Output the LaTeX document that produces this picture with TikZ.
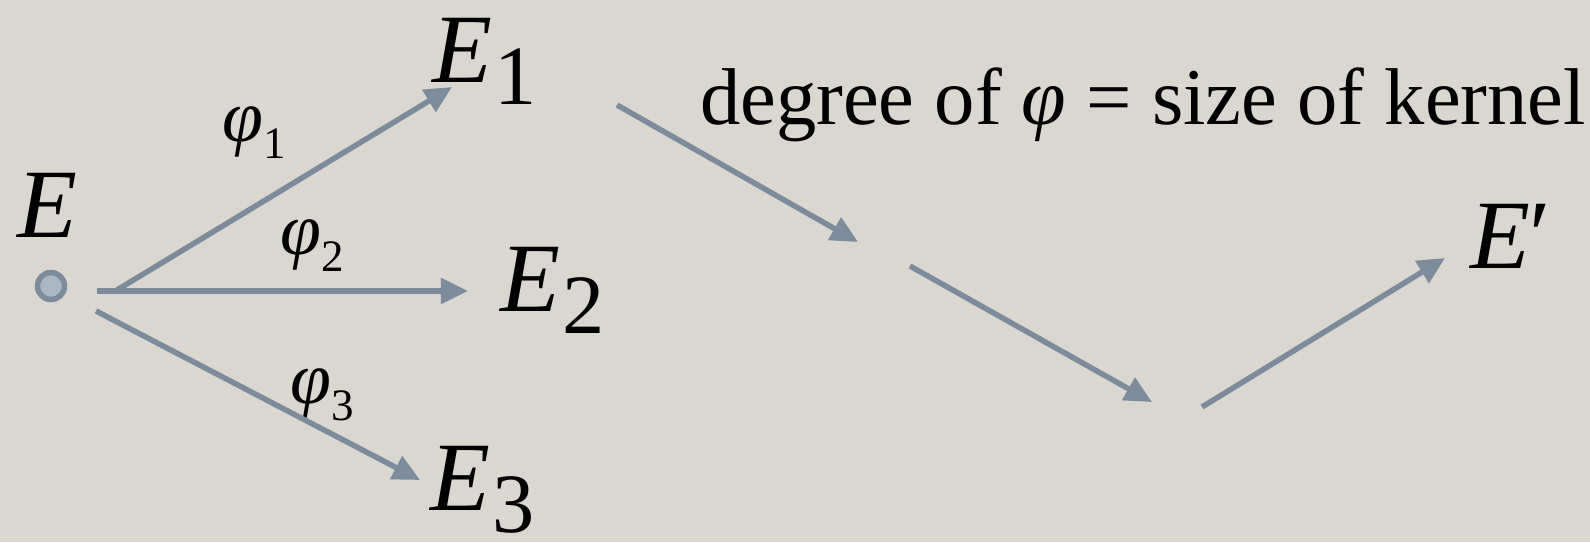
\documentclass[tikz,border=0pt]{standalone}
\usepackage{fontspec}
\setmainfont{Liberation Serif}
\usetikzlibrary{arrows.meta}
\definecolor{bgc}{HTML}{DAD7D0}
\definecolor{arrc}{HTML}{7D8C9C}
\definecolor{dotfill}{HTML}{A9B7C4}
\newcommand\Efont{\fontsize{27.9pt}{30pt}\selectfont}
\newcommand\Esub{\fontsize{24pt}{26pt}\selectfont}
\newcommand\Pfont{\fontsize{21pt}{23pt}\selectfont}
\newcommand\Psub{\fontsize{12.8pt}{14pt}\selectfont}
\newcommand\Tfont{\fontsize{22.9pt}{25pt}\selectfont}
\newcommand\Ename[1]{\textit{E}\kern0.03cm\raisebox{-0.22cm}{\Esub #1}}
\newcommand\Pname[1]{\textit{φ}\kern0.01cm\raisebox{-0.17cm}{\Psub #1}}
\begin{document}
\begin{tikzpicture}[x=0.01cm,y=-0.01cm,
  lbl/.style={anchor=base west,inner sep=0pt,outer sep=0pt,text=black},
  arr/.style={draw=arrc,line width=0.055cm,-{Triangle[length=0.27cm,width=0.25cm]}}]
\useasboundingbox (0,0) rectangle (1590,542);
\fill[bgc] (0,0) rectangle (1590,542);
% dot
\node[circle,draw=arrc,fill=dotfill,line width=0.055cm,minimum size=0.27cm,inner sep=0pt] (dot) at (51,286) {};
% labels
\node[lbl,font=\Efont] (nE) at (18,237) {\textit{E}};
\node[lbl,font=\Efont] (nE1) at (432,82) {\Ename{1}};
\node[lbl,font=\Efont] (nE2) at (500,311) {\Ename{2}};
\node[lbl,font=\Efont] (nE3) at (430,510) {\Ename{3}};
\node[lbl,font=\Efont] (nEp) at (1470,268) {\textit{E}′};
\node[lbl,font=\Pfont] (p1) at (222,141) {\Pname{1}};
\node[lbl,font=\Pfont] (p2) at (280,254) {\Pname{2}};
\node[lbl,font=\Pfont] (p3) at (290,403) {\Pname{3}};
\node[lbl,font=\Tfont] (title) at (700,124) {degree of \textit{φ} = size of kernel};
% arrow end points
\coordinate (a1s) at (117,290); \coordinate (a1e) at (452,87);
\coordinate (a2s) at (97,291);  \coordinate (a2e) at (468,291);
\coordinate (a3s) at (96,311);  \coordinate (a3e) at (420,480);
\coordinate (b1s) at (617,105); \coordinate (b1e) at (858,242);
\coordinate (b2s) at (910,266); \coordinate (b2e) at (1152,402);
\coordinate (b3s) at (1202,407);\coordinate (b3e) at (1445,258);
\draw[arr] (a1s) -- (a1e);
\draw[arr] (a2s) -- (a2e);
\draw[arr] (a3s) -- (a3e);
\draw[arr] (b1s) -- (b1e);
\draw[arr] (b2s) -- (b2e);
\draw[arr] (b3s) -- (b3e);
\end{tikzpicture}
\end{document}
